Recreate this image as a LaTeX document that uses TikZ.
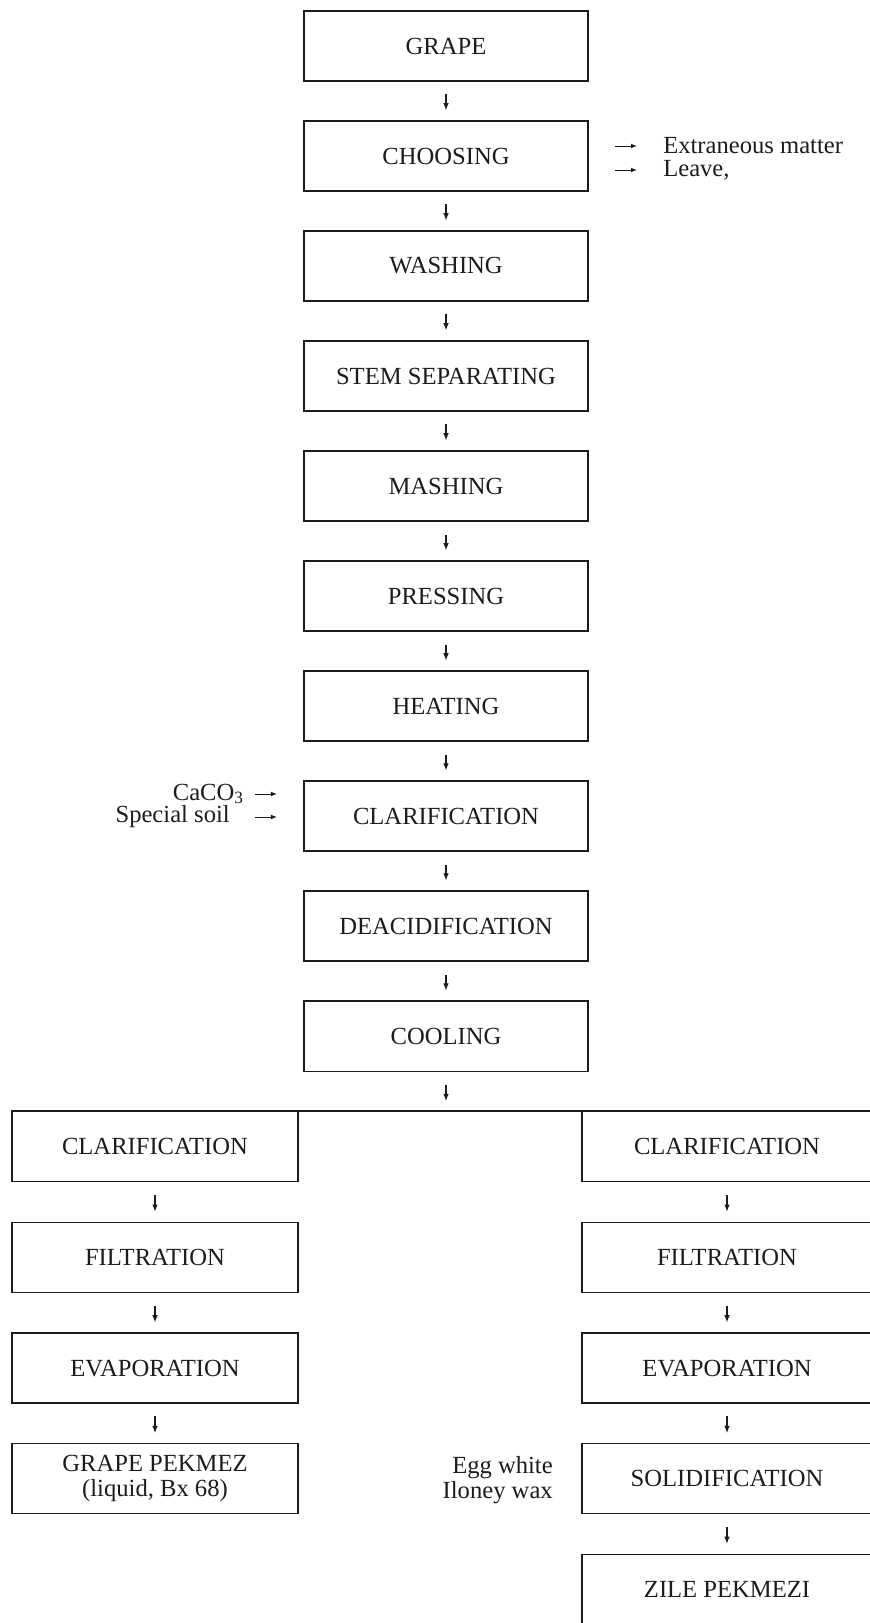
\documentclass[tikz,border=0pt]{standalone}
\usepackage{fontspec}
\setmainfont{Liberation Serif}
\usepackage{tikz}
\usetikzlibrary{positioning,arrows.meta,calc}
\definecolor{ink}{HTML}{1C1C1C}
\definecolor{paper}{HTML}{FFFFFF}
\tikzset{
    flowbox/.style={
        draw=ink, fill=paper, line width=0.9pt,
        minimum width=7.1cm, minimum height=1.75cm,
        font=\fontsize{17.5}{17.8}\selectfont, align=center, text=ink
    },
    branchbox/.style={
        draw=ink, fill=paper, line width=0.9pt,
        minimum width=7.15cm, minimum height=1.75cm,
        font=\fontsize{17.5}{17.8}\selectfont, align=center, text=ink
    },
    sidetext/.style={
        inner sep=0pt, font=\fontsize{17.5}{17.8}\selectfont, text=ink
    },
    arrow/.style={-{Latex[length=1.8mm,width=1.4mm]}, line width=0.8pt, color=ink,
        shorten <=0.32cm, shorten >=0.25cm},
    sidearrow/.style={-{Latex[length=1.5mm,width=1.2mm]}, line width=0.7pt, color=ink},
}

\begin{document}
\begin{tikzpicture}[x=0.025cm, y=-0.025cm, node distance=0.968cm]
    \fill[paper] (0,0) rectangle (869,1623);
    \useasboundingbox (0,0) rectangle (869,1623);

    % main line
    \node[flowbox] (grape) at (446,46) {GRAPE};
    \node[flowbox, below=of grape] (choosing) {CHOOSING};
    \node[flowbox, below=of choosing] (washing) {WASHING};
    \node[flowbox, below=of washing] (stem) {STEM SEPARATING};
    \node[flowbox, below=of stem] (mashing) {MASHING};
    \node[flowbox, below=of mashing] (pressing) {PRESSING};
    \node[flowbox, below=of pressing] (heating) {HEATING};
    \node[flowbox, below=of heating] (clar) {CLARIFICATION};
    \node[flowbox, below=of clar] (deacid) {DEACIDIFICATION};
    \node[flowbox, below=of deacid] (cooling) {COOLING};
    \foreach \a/\b in {grape/choosing, choosing/washing, washing/stem, stem/mashing,
        mashing/pressing, pressing/heating, heating/clar, clar/deacid, deacid/cooling}
        \draw[arrow] (\a) -- (\b);

    % side streams
    \node[sidetext, anchor=west] (extra) at (663,146) {Extraneous matter};
    \node[sidetext, anchor=west] (leave) at (663,170) {Leave,};
    \draw[sidearrow, shorten <=0.65cm, shorten >=0.65cm] (choosing.east |- extra.west) -- (extra.west);
    \draw[sidearrow, shorten <=0.65cm, shorten >=0.65cm] (choosing.east |- leave.west) -- (leave.west);
    \node[sidetext, anchor=east] (caco) at (244,794) {CaCO\textsubscript{3}};
    \node[sidetext, anchor=east] (soil) at (230,817) {Special soil};
    \draw[sidearrow, shorten <=0.62cm, shorten >=0.66cm] (soil.east |- caco.east) -- (clar.west |- caco.east);
    \draw[sidearrow, shorten <=0.62cm, shorten >=0.66cm] (soil.east) -- (clar.west |- soil.east);

    % left branch
    \begin{scope}[node distance=0.985cm]
    \node[branchbox, anchor=north] (lclar) at (155,1111) {CLARIFICATION};
    \node[branchbox, below=of lclar] (lfilt) {FILTRATION};
    \node[branchbox, below=of lfilt] (levap) {EVAPORATION};
    \node[branchbox, below=of levap] (pekmez) {GRAPE PEKMEZ\\(liquid, Bx 68)};

    % right branch
    \node[branchbox, minimum width=7.25cm, anchor=north] (rclar) at (727,1111) {CLARIFICATION};
    \node[branchbox, minimum width=7.25cm, below=of rclar] (rfilt) {FILTRATION};
    \node[branchbox, minimum width=7.25cm, below=of rfilt] (revap) {EVAPORATION};
    \node[branchbox, minimum width=7.25cm, below=of revap] (rsolid) {SOLIDIFICATION};
    \node[branchbox, minimum width=7.25cm, below=of rsolid] (zile) {ZILE PEKMEZI};
    \end{scope}
    \node[sidetext, align=right, anchor=east] (egg) at (553,1480) {Egg white\\Iloney wax};

    % split
    \coordinate (split) at (cooling.south |- lclar.north);
    \draw[arrow] (cooling.south) -- (split);
    \draw[line width=0.9pt, draw=ink] (lclar.north west) -- (rclar.north east);
    \foreach \a/\b in {lclar/lfilt, lfilt/levap, levap/pekmez,
        rclar/rfilt, rfilt/revap, revap/rsolid, rsolid/zile}
        \draw[arrow] (\a) -- (\b);
\end{tikzpicture}
\end{document}
